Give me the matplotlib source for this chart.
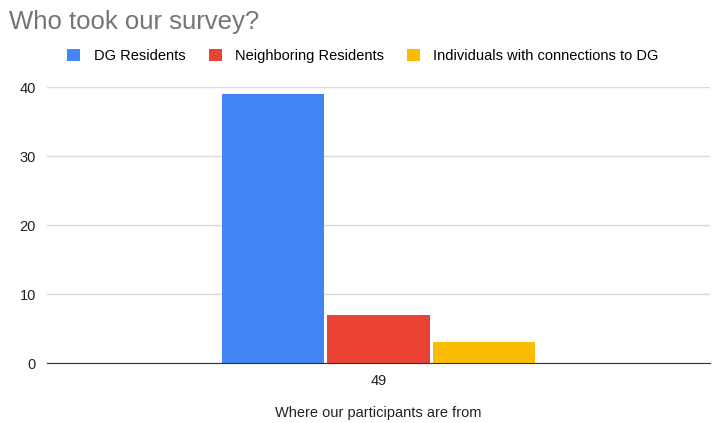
import matplotlib
matplotlib.use('Agg')
import matplotlib.pyplot as plt
import numpy as np

plt.rcParams['font.family'] = ['Liberation Sans', 'DejaVu Sans']

categories = ['49']
series = ['DG Residents', 'Neighboring Residents', 'Individuals with connections to DG']
values = [39, 7, 3]
colors = ['#4285F4', '#EA4335', '#FBBC04']

fig = plt.figure(figsize=(7.16, 4.23), dpi=100)
ax = fig.add_axes([0.0656, 0.1418, 0.926, 0.6525])

width = 0.155
gap = 0.004
x0 = 0
offsets = (np.arange(len(series)) - 1) * (width + gap)
for i, (name, v, c) in enumerate(zip(series, values, colors)):
    ax.bar(x0 + offsets[i], v, width=width, color=c, label=name, zorder=3)

ax.set_xlim(-0.5, 0.5)
ax.set_ylim(0, 40)
ax.set_yticks([0, 10, 20, 30, 40])
ax.set_xticks([0])
ax.set_xticklabels(categories)
ax.yaxis.grid(True, color='#d9d9d9', lw=1, zorder=0)
for s in ['top', 'right', 'left']:
    ax.spines[s].set_visible(False)
ax.spines['bottom'].set_color('#333333')
ax.spines['bottom'].set_zorder(4)
ax.tick_params(axis='both', length=0, labelsize=10.5, colors='#222222', pad=8)
ax.set_xlabel('Where our participants are from', fontsize=10.5, color='#222222', labelpad=13)

fig.text(0.012, 0.948, 'Who took our survey?', fontsize=18.5, color='#757575', va='center', ha='left')

handles, labels = ax.get_legend_handles_labels()
fig.legend(handles, labels, loc='center', bbox_to_anchor=(0.507, 0.868), ncol=3, frameon=False,
           fontsize=10.5, handlelength=0.9, handleheight=0.9, handletextpad=0.9, columnspacing=1.6)

fig.savefig('out.png', dpi=100)
